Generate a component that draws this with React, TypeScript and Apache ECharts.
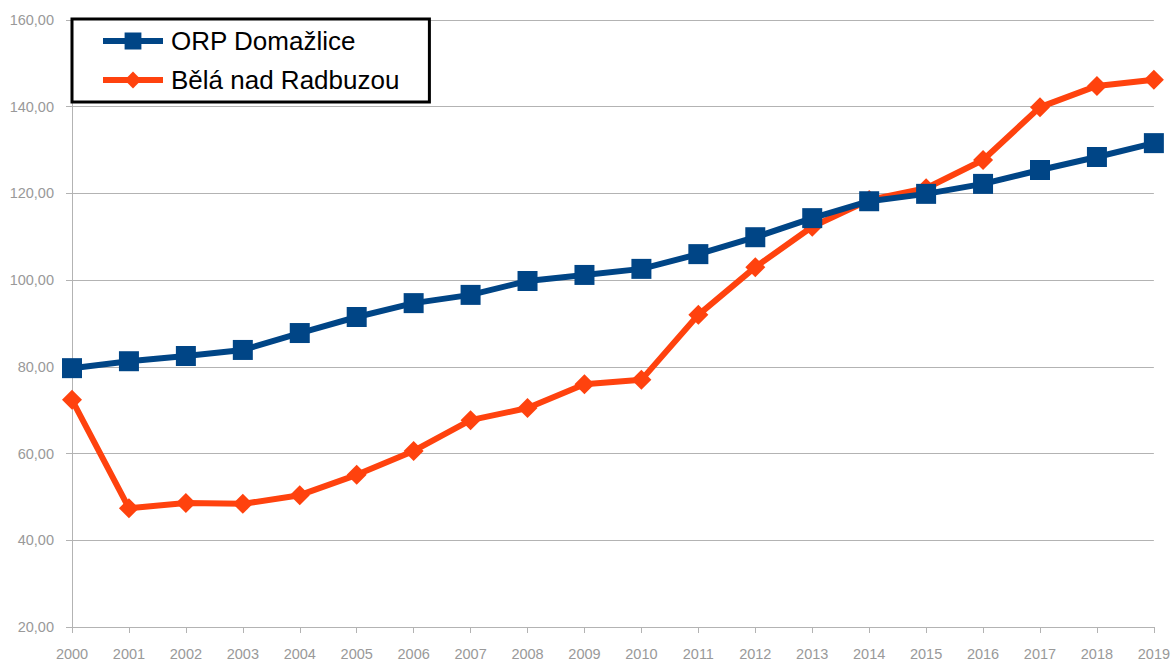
import React, { useEffect, useRef } from "react";
import * as echarts from "echarts";

const years = ["2000","2001","2002","2003","2004","2005","2006","2007","2008","2009","2010","2011","2012","2013","2014","2015","2016","2017","2018","2019"];
const orpDomazlice = [79.7,81.3,82.5,83.9,87.8,91.5,94.7,96.6,99.8,101.2,102.6,106.0,109.9,114.3,118.2,119.9,122.2,125.4,128.4,131.6];
const belaNadRadbuzou = [72.4,47.4,48.6,48.4,50.4,55.1,60.6,67.7,70.5,76.0,77.0,92.0,103.0,112.3,118.5,121.2,127.7,139.9,144.8,146.2];

export default function App() {
  const ref = useRef<HTMLDivElement>(null);
  useEffect(() => {
    const chart = echarts.init(ref.current!, null, { renderer: "svg" });
    const font = "'Liberation Sans', Arial, sans-serif";
    chart.setOption({
      animation: false,
      backgroundColor: "#fff",
      grid: { left: 72, right: 19, top: 20, bottom: 35, containLabel: false },
      legend: {
        left: 72,
        top: 19,
        orient: "vertical",
        backgroundColor: "#fff",
        borderColor: "#000",
        borderWidth: 3,
        borderRadius: 0,
        padding: [9, 30, 9, 28],
        itemWidth: 60,
        itemHeight: 21,
        itemGap: 13,
        lineStyle: { width: 6 },
        textStyle: { fontFamily: font, fontSize: 26, color: "#000", padding: [0, 0, 0, 3] },
        data: ["ORP Domažlice", "Bělá nad Radbuzou"],
      },
      xAxis: {
        type: "category",
        data: years,
        boundaryGap: false,
        axisLine: { lineStyle: { color: "#b3b3b3", width: 1 } },
        axisTick: { show: true, length: 6, lineStyle: { color: "#b3b3b3" }, alignWithLabel: true },
        axisLabel: { color: "#999", fontFamily: font, fontSize: 14.5, margin: 19 },
        splitLine: { show: false },
      },
      yAxis: {
        type: "value",
        min: 20,
        max: 160,
        interval: 20,
        axisLine: { show: true, lineStyle: { color: "#b3b3b3", width: 1 } },
        axisTick: { show: true, length: 6, lineStyle: { color: "#b3b3b3" } },
        axisLabel: {
          color: "#999",
          fontFamily: font,
          fontSize: 14.5,
          margin: 18,
          formatter: (v: number) => v.toFixed(2).replace(".", ","),
        },
        splitLine: { show: true, lineStyle: { color: "#b3b3b3", width: 1 } },
      },
      series: [
        {
          name: "ORP Domažlice",
          type: "line",
          data: orpDomazlice,
          symbol: "rect",
          symbolSize: 20,
          lineStyle: { color: "#004586", width: 6 },
          itemStyle: { color: "#004586" },
          z: 3,
        },
        {
          name: "Bělá nad Radbuzou",
          type: "line",
          data: belaNadRadbuzou,
          symbol: "diamond",
          symbolSize: 20,
          lineStyle: { color: "#ff420e", width: 6 },
          itemStyle: { color: "#ff420e" },
          z: 2,
        },
      ],
    });
    return () => chart.dispose();
  }, []);
  return <div ref={ref} style={{ width: 1173, height: 662, position: "absolute", left: 0, top: 0 }} />;
}
